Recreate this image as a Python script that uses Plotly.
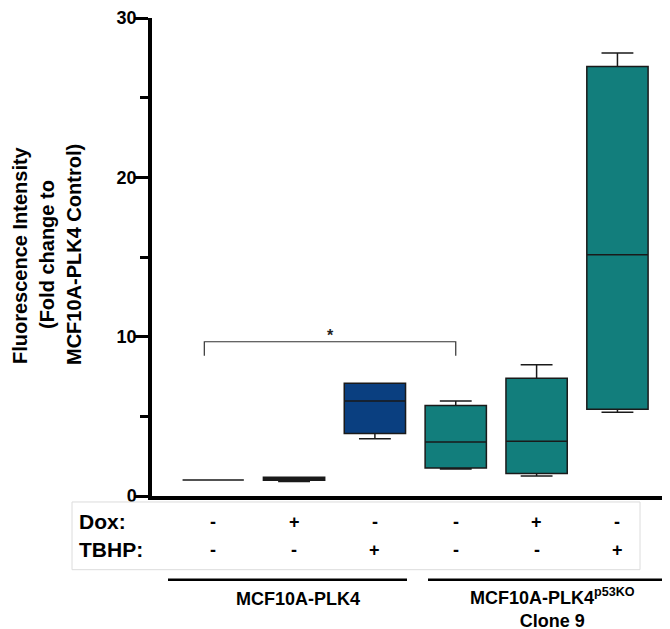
import plotly.graph_objects as go

# ---- data ----
groups = ["PLK4 ctrl", "PLK4 Dox", "PLK4 TBHP", "p53KO ctrl", "p53KO Dox", "p53KO TBHP"]
q1 = [1.0, 0.99, 3.93, 1.76, 1.41, 5.45]
median = [1.0, 1.08, 5.97, 3.39, 3.43, 15.14]
q3 = [1.0, 1.18, 7.08, 5.68, 7.39, 26.95]
lowerfence = [1.0, 0.91, 3.59, 1.70, 1.26, 5.26]
upperfence = [1.0, 1.18, 7.08, 5.97, 8.24, 27.80]
colors = ["#0a3f80", "#0a3f80", "#0a3f80", "#127e7c", "#127e7c", "#127e7c"]
dox = ["-", "+", "-", "-", "+", "-"]
tbhp = ["-", "-", "+", "-", "-", "+"]
y_ticks = [0, 10, 20, 30]
y_minor = [5, 15, 25]
cell_lines = ["MCF10A-PLK4", "MCF10A-PLK4<sup>p53KO</sup><br>Clone 9"]

FONT = "Liberation Sans, Arial, sans-serif"
OFF = 8  # page body margin
W, H = 670 - OFF, 629 - OFF
ML, MR, MT, MB = 152 - OFF, 0, 16 - OFF, 133
XR = [-0.757, 5.65]
PW = W - ML - MR
PH = H - MT - MB


def px_x(px):
    return (px - OFF - ML) / PW


def px_y(py):
    return (H - MB - (py - OFF)) / PH


fig = go.Figure()
for i, g in enumerate(groups):
    fig.add_trace(go.Box(
        x=[i], q1=[q1[i]], median=[median[i]], q3=[q3[i]],
        lowerfence=[lowerfence[i]], upperfence=[upperfence[i]],
        name=g, fillcolor=colors[i],
        line=dict(color="#1a1a1a", width=1.5),
        width=0.758, whiskerwidth=0.52, boxpoints=False, showlegend=False,
    ))

shapes = []
annotations = []

# significance bracket
shapes.append(dict(type="path", xref="x", yref="y",
                   path="M -0.11 8.8 L -0.11 9.68 L 3.0 9.68 L 3.0 8.8",
                   line=dict(color="#333333", width=1.2)))
annotations.append(dict(x=1.445, y=10.1, xref="x", yref="y", text="<b>*</b>",
                        showarrow=False, yanchor="middle",
                        font=dict(size=16, color="#222", family=FONT)))

# table box
shapes.append(dict(type="rect", xref="paper", yref="paper",
                   x0=px_x(72), x1=px_x(640), y0=px_y(570), y1=px_y(502),
                   line=dict(color="#dcdcdc", width=1)))

annotations.append(dict(x=px_x(77), y=px_y(522), xref="paper", yref="paper",
                        text="<b>Dox:</b>", showarrow=False, xanchor="left", yanchor="middle",
                        font=dict(size=21, color="black", family=FONT)))
annotations.append(dict(x=px_x(77), y=px_y(550), xref="paper", yref="paper",
                        text="<b>TBHP:</b>", showarrow=False, xanchor="left", yanchor="middle",
                        font=dict(size=21, color="black", family=FONT)))
for i in range(len(groups)):
    annotations.append(dict(x=i, y=px_y(522), xref="x", yref="paper",
                            text="<b>%s</b>" % dox[i], showarrow=False,
                            xanchor="center", yanchor="middle",
                            font=dict(size=18, color="black", family=FONT)))
    annotations.append(dict(x=i, y=px_y(550), xref="x", yref="paper",
                            text="<b>%s</b>" % tbhp[i], showarrow=False,
                            xanchor="center", yanchor="middle",
                            font=dict(size=18, color="black", family=FONT)))

# group lines and labels
shapes.append(dict(type="line", xref="paper", yref="paper",
                   x0=px_x(168), x1=px_x(407), y0=px_y(580), y1=px_y(580),
                   line=dict(color="black", width=2.5)))
shapes.append(dict(type="line", xref="paper", yref="paper",
                   x0=px_x(428), x1=px_x(670), y0=px_y(580), y1=px_y(580),
                   line=dict(color="black", width=2.5)))
annotations.append(dict(x=1.05, y=px_y(587), xref="x", yref="paper",
                        text="<b>%s</b>" % cell_lines[0], showarrow=False,
                        xanchor="center", yanchor="top",
                        font=dict(size=18, color="black", family=FONT)))
annotations.append(dict(x=4.2, y=px_y(583), xref="x", yref="paper",
                        text="<b>%s</b>" % cell_lines[1], showarrow=False,
                        xanchor="center", yanchor="top",
                        font=dict(size=18, color="black", family=FONT)))

# y title lines
ytitle = ["Fluorescence Intensity", "(Fold change to", "MCF10A-PLK4 Control)"]
for t, px in zip(ytitle, [20, 47, 74]):
    annotations.append(dict(x=px_x(px), y=px_y(254), xref="paper", yref="paper",
                            text="<b>%s</b>" % t, showarrow=False, textangle=-90,
                            xanchor="center", yanchor="middle",
                            font=dict(size=20, color="black", family=FONT)))

fig.update_layout(
    width=W, height=H,
    margin=dict(l=ML, r=MR, t=MT, b=MB, pad=0),
    paper_bgcolor="white", plot_bgcolor="white",
    shapes=shapes, annotations=annotations,
    xaxis=dict(range=XR, showline=True, linewidth=3.5, linecolor="black",
               showticklabels=False, ticks="", showgrid=False, zeroline=False),
    yaxis=dict(range=[0, 30], tickvals=y_ticks, ticks="outside", ticklen=13,
               tickwidth=3, tickcolor="black", showline=True, linewidth=3.5,
               linecolor="black", showgrid=False, zeroline=False,
               ticklabeloverflow="allow", ticklabelstandoff=-5,
               tickfont=dict(size=18, color="black", family=FONT, weight="bold"),
               minor=dict(tickvals=y_minor, ticks="outside", ticklen=8,
                          tickwidth=3, tickcolor="black", showgrid=False)),
    font=dict(family=FONT, color="black"),
)

fig.write_html("out.html")
